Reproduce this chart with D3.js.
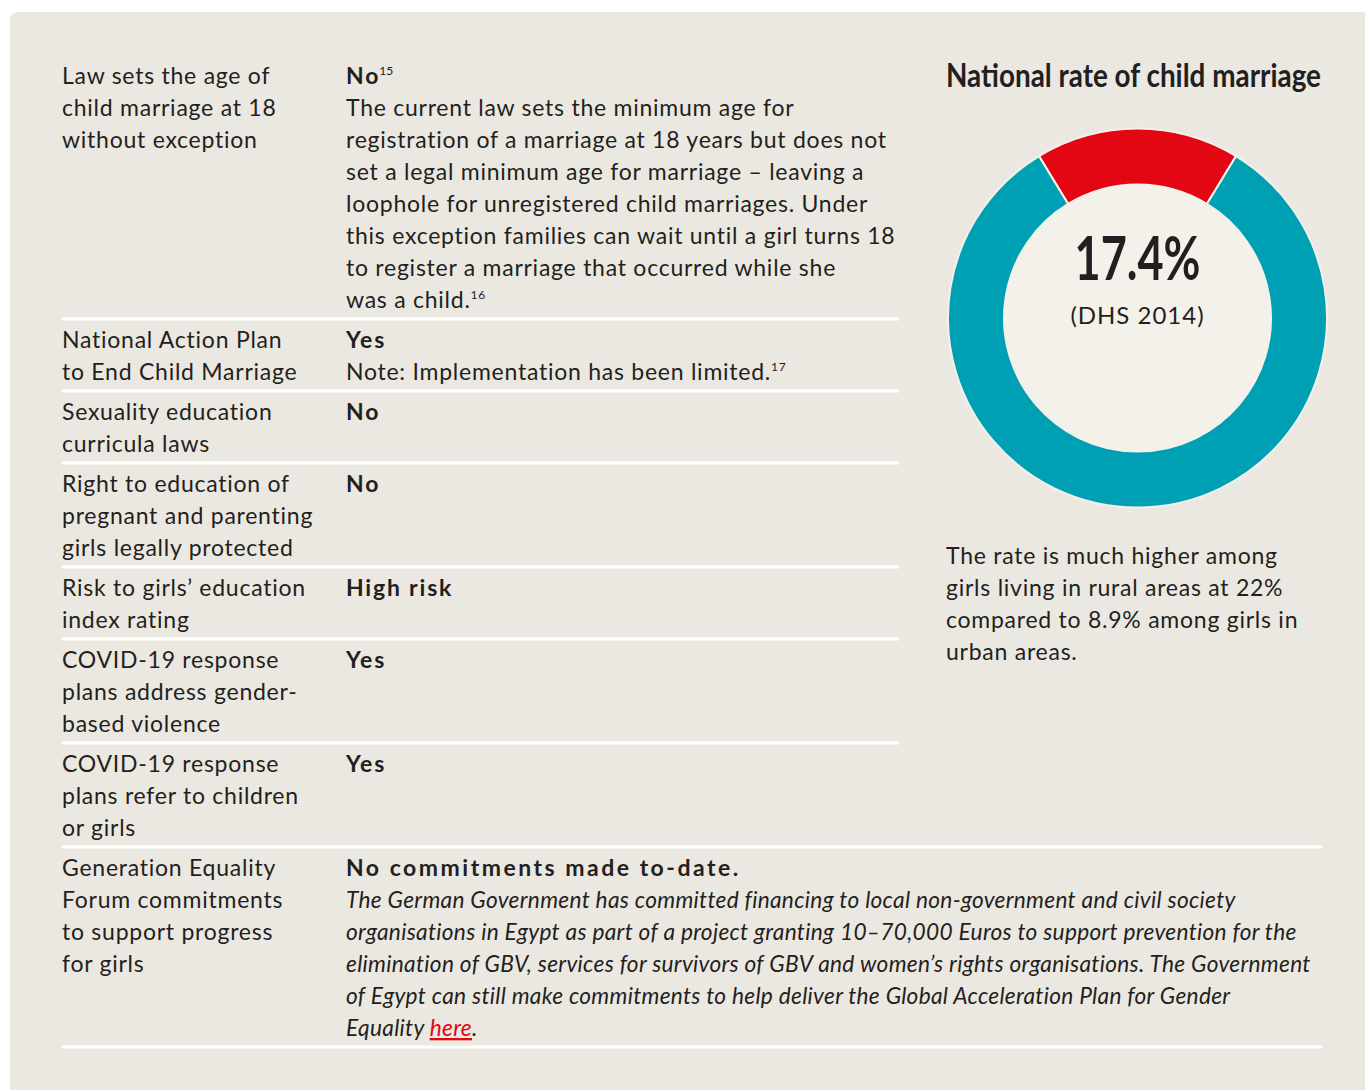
<!DOCTYPE html>
<html>
<head>
<meta charset="utf-8">
<script src="https://cdn.jsdelivr.net/npm/d3@7"></script>
<style>
  body { margin: 0; background: #ffffff; }
  svg text { font-family: Lato, "Open Sans", sans-serif; fill: #231f20; letter-spacing: 0.75px; }
</style>
</head>
<body>
<svg id="chart" width="1365" height="1090"></svg>
<script>
// table rows
const rowLabels = [
  ["Law sets the age of", "child marriage at 18", "without exception"],
  ["National Action Plan", "to End Child Marriage"],
  ["Sexuality education", "curricula laws"],
  ["Right to education of", "pregnant and parenting", "girls legally protected"],
  ["Risk to girls\u2019 education", "index rating"],
  ["COVID-19 response", "plans address gender-", "based violence"],
  ["COVID-19 response", "plans refer to children", "or girls"],
  ["Generation Equality", "Forum commitments", "to support progress", "for girls"]
]
const rowAnswers = ["No", "Yes", "No", "No", "High risk", "Yes", "Yes", "No commitments made to-date."]
const answerNotes = ["15", "", "", "", "", "", "", ""]
const rowDetails = [
  ["The current law sets the minimum age for",
   "registration of a marriage at 18 years but does not",
   "set a legal minimum age for marriage \u2013 leaving a",
   "loophole for unregistered child marriages. Under",
   "this exception families can wait until a girl turns 18",
   "to register a marriage that occurred while she",
   "was a child.{16}"],
  ["Note: Implementation has been limited.{17}"],
  [], [], [], [], [],
  ["The German Government has committed financing to local non-government and civil society",
   "organisations in Egypt as part of a project granting 10\u201370,000 Euros to support prevention for the",
   "elimination of GBV, services for survivors of GBV and women\u2019s rights organisations. The Government",
   "of Egypt can still make commitments to help deliver the Global Acceleration Plan for Gender",
   "Equality [here]."]
]

// donut
const donutTitle = "National rate of child marriage"
const donutLabels = ["Married as child", "Other"]
const donutValues = [17.4, 82.6]
const donutValueText = "17.4%"
const donutSource = "(DHS 2014)"
const donutNote = [
  "The rate is much higher among",
  "girls living in rural areas at 22%",
  "compared to 8.9% among girls in",
  "urban areas."
]

const svg = d3.select('#chart')

svg.append('rect')
  .attr('x', 10).attr('y', 12)
  .attr('width', 1400).attr('height', 1120)
  .attr('rx', 8)
  .attr('fill', '#ebe8e1')

const lineH = 32
const labelX = 62, answerX = 346

// row start baselines from line counts
let rows = []
let b = 84
rowLabels.forEach(function(lab, i){
  let n = Math.max(lab.length, rowDetails[i].length + 1)
  rows.push({i: i, base: b, n: n, rule: b + (n - 1) * lineH + 11})
  b += n * lineH + 8
})

// put superscripts and links into tspans
function addRich(sel, str){
  let parts = str.split(/(\{\d+\}|\[[^\]]+\])/).filter(p => p)
  let back = 0
  parts.forEach(function(p){
    let ts
    if(p[0] == '{'){
      ts = sel.append('tspan').attr('font-size', 12).attr('dy', -9 + back).text(p.slice(1, -1))
      back = 9
      return
    }
    if(p[0] == '['){
      ts = sel.append('tspan').style('fill', '#e30613')
        .attr('text-decoration', 'underline').text(p.slice(1, -1))
    }
    else ts = sel.append('tspan').text(p)
    if(back){ ts.attr('dy', back); back = 0 }
  })
}

let rowG = svg.selectAll('.row')
  .data(rows)
  .enter()
  .append('g')
  .attr('class', 'row')

rowG.selectAll('.label')
  .data(d => rowLabels[d.i].map((t, k) => ({t: t, y: d.base + k * lineH})))
  .enter()
  .append('text')
  .attr('x', labelX)
  .attr('y', d => d.y)
  .attr('font-size', 23)
  .text(d => d.t)

rowG.append('text')
  .attr('class', 'answer')
  .attr('x', answerX)
  .attr('y', d => d.base)
  .attr('font-size', 23)
  .attr('font-weight', 'bold')
  .style('letter-spacing', d => d.i == 7 ? '2.5px' : '1.8px')
  .each(function(d){
    let t = d3.select(this)
    t.append('tspan').text(rowAnswers[d.i])
    if(answerNotes[d.i]){
      t.append('tspan').attr('font-size', 12).attr('font-weight', 'normal')
        .style('letter-spacing', '0px').attr('dy', -9).attr('dx', -1).text(answerNotes[d.i])
    }
  })

rowG.filter(d => d.i < 7).selectAll('.detail')
  .data(d => rowDetails[d.i].map((t, k) => ({t: t, y: d.base + (k + 1) * lineH})))
  .enter()
  .append('text')
  .attr('x', answerX)
  .attr('y', d => d.y)
  .attr('font-size', 23)
  .each(function(d){ addRich(d3.select(this), d.t) })

// last row in italics, stretched to the reference line length
let last = rows[7]
let italics = rowG.filter(d => d.i == 7).selectAll('.detail')
  .data(rowDetails[7].map((t, k) => ({t: t, y: last.base + (k + 1) * lineH})))
  .enter()
  .append('text')
  .attr('class', 'detail')
  .attr('x', 0)
  .attr('y', d => d.y)
  .attr('font-size', 23)
  .attr('font-style', 'italic')
  .style('letter-spacing', '0.3px')
  .each(function(d){ addRich(d3.select(this), d.t) })

let widest = d3.max(italics.nodes(), n => n.getComputedTextLength())
let k = 965 / widest
italics.attr('transform', 'translate(' + answerX + ',0) scale(' + k + ',1)')

// separators
svg.selectAll('.rule')
  .data(rows)
  .enter()
  .append('line')
  .attr('x1', labelX)
  .attr('x2', d => d.i >= 6 ? 1322 : 899)
  .attr('y1', d => d.rule)
  .attr('y2', d => d.rule)
  .attr('stroke', '#ffffff')
  .attr('stroke-width', 3)

// donut
const cx = 1137.5, cy = 318
const outerR = 189.5, innerR = 133.5

let pie = d3.pie()
  .sort(null)
  .startAngle(-donutValues[0] / 100 * Math.PI)
  .endAngle(2 * Math.PI - donutValues[0] / 100 * Math.PI)

let arc = d3.arc().innerRadius(innerR).outerRadius(outerR)
let colour = d3.scaleOrdinal().domain(donutLabels).range(['#e30613', '#00a0b4'])

let donut = svg.append('g').attr('transform', 'translate(' + cx + ',' + cy + ')')

donut.append('circle').attr('r', innerR).attr('fill', '#f4f1eb')

donut.selectAll('path')
  .data(pie(donutValues))
  .enter()
  .append('path')
  .attr('d', arc)
  .attr('fill', (d, i) => colour(donutLabels[i]))
  .attr('stroke', '#f4f1eb')
  .attr('stroke-width', 2)

let big = donut.append('text')
  .attr('x', 0)
  .attr('y', 0)
  .attr('text-anchor', 'middle')
  .attr('font-family', '"Liberation Sans Narrow", "DejaVu Sans Condensed", sans-serif')
  .attr('font-weight', 'bold')
  .attr('font-size', 62)
  .style('letter-spacing', '0px')
  .text(donutValueText)
let bigW = big.node().getComputedTextLength()
big.attr('transform', 'translate(0,-38) scale(' + (126 / bigW) + ',1)')

donut.append('text')
  .attr('y', 6)
  .attr('text-anchor', 'middle')
  .attr('font-size', 24)
  .style('letter-spacing', '1px')
  .text(donutSource)

let title = svg.append('text')
  .attr('x', 0)
  .attr('y', 0)
  .attr('font-family', '"Liberation Sans Narrow", "DejaVu Sans Condensed", sans-serif')
  .attr('font-weight', 'bold')
  .attr('font-size', 32)
  .style('letter-spacing', '0px')
  .text(donutTitle)
let titleW = title.node().getComputedTextLength()
title.attr('transform', 'translate(946,87) scale(' + (375 / titleW) + ',1)')

svg.selectAll('.note')
  .data(donutNote)
  .enter()
  .append('text')
  .attr('x', 946)
  .attr('y', (d, i) => 564 + i * lineH)
  .attr('font-size', 23)
  .text(d => d)
</script>
</body>
</html>
